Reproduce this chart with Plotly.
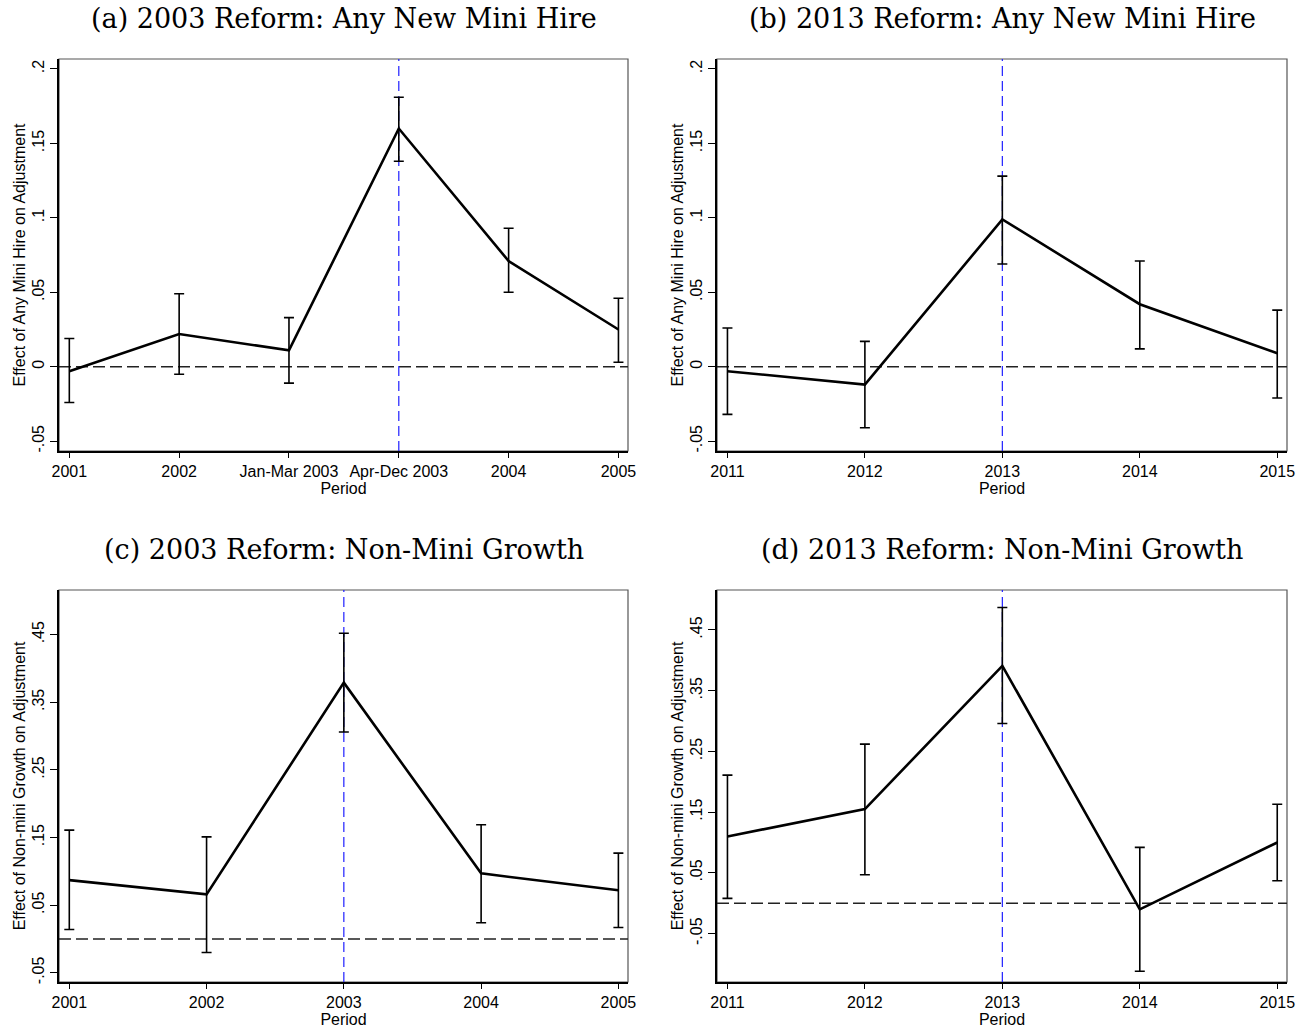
import plotly.graph_objects as go

# ---------------- data ----------------
periods_a = ["2001", "2002", "Jan-Mar 2003", "Apr-Dec 2003", "2004", "2005"]
coef_a = [-0.003, 0.022, 0.011, 0.160, 0.071, 0.025]
upper_a = [0.019, 0.049, 0.033, 0.181, 0.093, 0.046]
lower_a = [-0.024, -0.005, -0.011, 0.138, 0.050, 0.003]

periods_b = ["2011", "2012", "2013", "2014", "2015"]
coef_b = [-0.003, -0.012, 0.099, 0.042, 0.009]
upper_b = [0.026, 0.017, 0.128, 0.071, 0.038]
lower_b = [-0.032, -0.041, 0.069, 0.012, -0.021]

periods_c = ["2001", "2002", "2003", "2004", "2005"]
coef_c = [0.087, 0.066, 0.379, 0.097, 0.072]
upper_c = [0.161, 0.151, 0.452, 0.169, 0.127]
lower_c = [0.014, -0.020, 0.306, 0.024, 0.017]

periods_d = ["2011", "2012", "2013", "2014", "2015"]
coef_d = [0.110, 0.155, 0.391, -0.010, 0.100]
upper_d = [0.211, 0.262, 0.487, 0.092, 0.163]
lower_d = [0.008, 0.047, 0.296, -0.112, 0.037]

ytick_top = [-0.05, 0, 0.05, 0.1, 0.15, 0.2]
ytick_top_text = ["-.05", "0", ".05", ".1", ".15", ".2"]
ytick_bot = [-0.05, 0.05, 0.15, 0.25, 0.35, 0.45]
ytick_bot_text = ["-.05", ".05", ".15", ".25", ".35", ".45"]

titles = ["(a) 2003 Reform: Any New Mini Hire", "(b) 2013 Reform: Any New Mini Hire",
          "(c) 2003 Reform: Non-Mini Growth", "(d) 2013 Reform: Non-Mini Growth"]
ytitle_top = "Effect of Any Mini Hire on Adjustment"
ytitle_bot = "Effect of Non-mini Growth on Adjustment"
xtitle = "Period"

# reform period index (vertical line)
reform_idx = [3, 2, 2, 2]

# ---------------- layout geometry ----------------
W, H = 1307, 1029
xdom_left = [59 / W, 628 / W]
xdom_right = [717 / W, 1287 / W]
ydom_top = [1 - 451 / H, 1 - 59 / H]
ydom_bot = [1 - 982 / H, 1 - 590 / H]

panels = [
    dict(p=periods_a, c=coef_a, u=upper_a, l=lower_a, xd=xdom_left, yd=ydom_top,
         xr=[-0.094, 5.087], yr=[-0.0566, 0.2067], tv=ytick_top, tt=ytick_top_text, yt=ytitle_top),
    dict(p=periods_b, c=coef_b, u=upper_b, l=lower_b, xd=xdom_right, yd=ydom_top,
         xr=[-0.076, 4.071], yr=[-0.0566, 0.2067], tv=ytick_top, tt=ytick_top_text, yt=ytitle_top),
    dict(p=periods_c, c=coef_c, u=upper_c, l=lower_c, xd=xdom_left, yd=ydom_bot,
         xr=[-0.075, 4.07], yr=[-0.0636, 0.516], tv=ytick_bot, tt=ytick_bot_text, yt=ytitle_bot),
    dict(p=periods_d, c=coef_d, u=upper_d, l=lower_d, xd=xdom_right, yd=ydom_bot,
         xr=[-0.076, 4.071], yr=[-0.1297, 0.5158], tv=ytick_bot, tt=ytick_bot_text, yt=ytitle_bot),
]

fig = go.Figure()
tick_font = dict(family="Liberation Sans, Arial, sans-serif", size=16, color="black")

for i, pn in enumerate(panels):
    k = "" if i == 0 else str(i + 1)
    xs = list(range(len(pn["p"])))
    plus = [u - c for u, c in zip(pn["u"], pn["c"])]
    minus = [c - l for c, l in zip(pn["c"], pn["l"])]
    fig.add_trace(go.Scatter(
        x=xs, y=pn["c"], mode="lines",
        line=dict(color="black", width=2.6),
        error_y=dict(type="data", array=plus, arrayminus=minus, visible=True,
                     color="black", thickness=1.6, width=5),
        xaxis="x" + k, yaxis="y" + k, showlegend=False, hoverinfo="skip"))

    fig.layout["xaxis" + k] = dict(
        domain=pn["xd"], range=pn["xr"], anchor="y" + k, automargin=False,
        tickmode="array", tickvals=xs, ticktext=pn["p"],
        ticks="outside", ticklen=5, tickwidth=1, tickcolor="black",
        showline=True, linecolor="black", linewidth=1.5,
        showgrid=False, zeroline=False, tickfont=tick_font,
        title=dict(text=xtitle, font=tick_font, standoff=1), fixedrange=True)
    fig.layout["yaxis" + k] = dict(
        domain=pn["yd"], range=pn["yr"], anchor="x" + k, automargin=False,
        tickmode="array", tickvals=pn["tv"], ticktext=pn["tt"], tickangle=-90,
        ticks="outside", ticklen=7, tickwidth=1, tickcolor="black",
        showline=True, linecolor="black", linewidth=1.5,
        showgrid=False, zeroline=False, tickfont=tick_font,
        title=dict(text=pn["yt"], font=tick_font, standoff=0), fixedrange=True)

    xref = "x" + k
    yref = "y" + k
    # frame
    fig.add_shape(type="rect", xref=xref + " domain", yref=yref + " domain",
                  x0=0, x1=1, y0=0, y1=1, line=dict(color="#555555", width=1.2), layer="below")
    # zero line
    fig.add_shape(type="line", xref=xref + " domain", yref=yref, x0=0, x1=1, y0=0, y1=0,
                  line=dict(color="#222222", width=1.3, dash="12px,5px"), layer="below")
    # reform line
    fig.add_shape(type="line", xref=xref, yref=yref + " domain",
                  x0=reform_idx[i], x1=reform_idx[i], y0=0, y1=1,
                  line=dict(color="#1f1fff", width=1.2, dash="10px,5px"), layer="below")
    # panel title
    fig.add_annotation(text=titles[i], xref="paper", yref="paper",
                       x=(pn["xd"][0] + pn["xd"][1]) / 2, y=pn["yd"][1] + 41 / H,
                       xanchor="center", yanchor="middle", showarrow=False,
                       font=dict(family="DejaVu Serif, serif", size=27, color="black"))

fig.update_layout(width=W, height=H, margin=dict(l=0, r=0, t=0, b=0, autoexpand=False),
                  paper_bgcolor="white", plot_bgcolor="white", showlegend=False)

fig.write_html("out.html", config={"displayModeBar": False},
               post_script="document.body.style.margin='0';document.body.style.overflow='hidden';")
